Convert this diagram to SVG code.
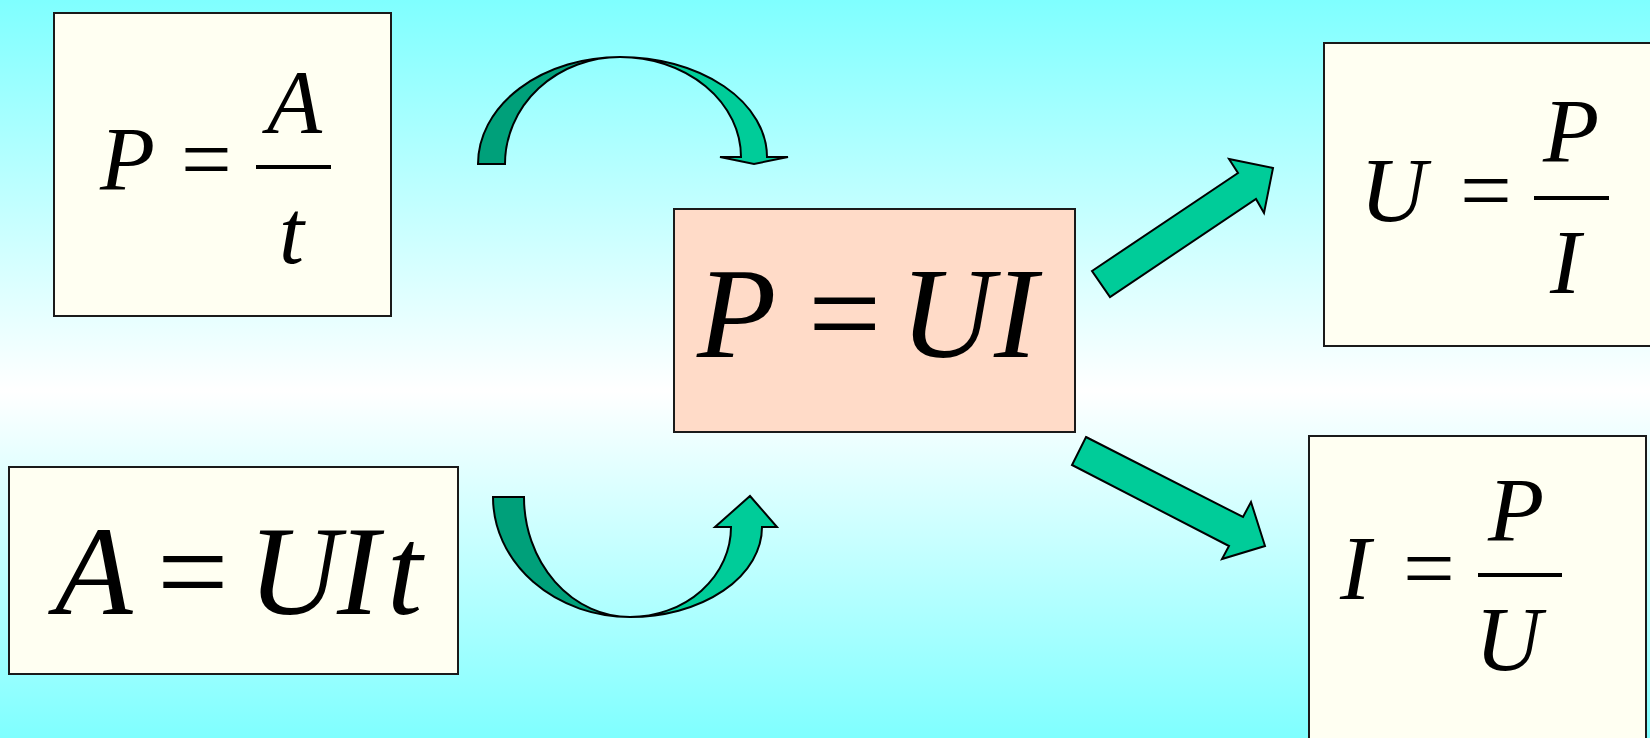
<svg xmlns="http://www.w3.org/2000/svg" width="1650" height="738" viewBox="0 0 1650 738">
<defs>
<linearGradient id="bg" x1="0" y1="0" x2="0" y2="1">
<stop offset="0" stop-color="#7FFFFF"/>
<stop offset="0.53" stop-color="#FFFFFF"/>
<stop offset="1" stop-color="#7FFFFF"/>
</linearGradient>
<style>
.box{fill:#FFFFF2;stroke:#1a1a1a;stroke-width:2}
.main{fill:#FFDBC8;stroke:#1a1a1a;stroke-width:2}
.v{font-family:"Liberation Serif","Times New Roman",serif;font-style:italic;fill:#000}
.op{font-style:normal}
.fr{stroke:#000;stroke-width:4}
.arL{fill:#00CC99;stroke:#000;stroke-width:2;stroke-linejoin:miter}
.arD{fill:#00A07A;stroke:#000;stroke-width:2}
</style>
</defs>
<rect x="0" y="0" width="1650" height="738" fill="url(#bg)"/>

<g id="connectors">
<path class="arD" d="M478,164 A142,107 0 0 1 620,57 A115,107 0 0 0 505,164 Z"/>
<path class="arL" d="M620,57 A147,100 0 0 1 767,157 L788,157 L754,164 L720,157 L741,157 A121,100 0 0 0 620,57 Z"/>
<path class="arD" d="M493,497 A137,120 0 0 0 630,617 A106,120 0 0 1 524,497 Z"/>
<path class="arL" d="M630,617 A132,90 0 0 0 762,527 L777,527 L750,496 L715,527 L731,527 A101,90 0 0 1 630,617 Z"/>
<polygon class="arL" points="1092,271 1238,173 1229,159 1273,168 1264,213 1256,199 1110,297"/>
<polygon class="arL" points="1086,437 1243,517 1251,502 1265,546 1222,559 1229,546 1072,465"/>
</g>

<g id="node-p-a-t">
<rect class="box" x="54" y="13" width="337" height="303"/>
<text class="v" y="190" font-size="90"><tspan x="100">P</tspan><tspan class="op" x="181">=</tspan></text>
<line class="fr" x1="256" y1="167" x2="331" y2="167"/>
<text class="v" x="267" y="133" font-size="90">A</text>
<text class="v" x="279" y="263" font-size="90">t</text>
</g>

<g id="node-a-uit">
<rect class="box" x="9" y="467" width="449" height="207"/>
<text class="v" y="614" font-size="127"><tspan x="55">A</tspan><tspan class="op" x="157">=</tspan><tspan x="248">U</tspan><tspan x="337">I</tspan><tspan x="387">t</tspan></text>
</g>

<g id="node-p-ui">
<rect class="main" x="674" y="209" width="401" height="223"/>
<text class="v" y="357" font-size="130"><tspan x="697">P</tspan><tspan class="op" x="808">=</tspan><tspan x="900">U</tspan><tspan x="994">I</tspan></text>
</g>

<g id="node-u-p-i">
<rect class="box" x="1324" y="43" width="337" height="303"/>
<text class="v" y="221" font-size="92"><tspan x="1360">U</tspan><tspan class="op" x="1460">=</tspan></text>
<line class="fr" x1="1534" y1="198" x2="1609" y2="198"/>
<text class="v" x="1543" y="162" font-size="92">P</text>
<text class="v" x="1550" y="293" font-size="92">I</text>
</g>

<g id="node-i-p-u">
<rect class="box" x="1309" y="436" width="337" height="310"/>
<text class="v" y="599" font-size="92"><tspan x="1340">I</tspan><tspan class="op" x="1403">=</tspan></text>
<line class="fr" x1="1478" y1="575" x2="1562" y2="575"/>
<text class="v" x="1488" y="541" font-size="92">P</text>
<text class="v" x="1475" y="670" font-size="92">U</text>
</g>
</svg>
